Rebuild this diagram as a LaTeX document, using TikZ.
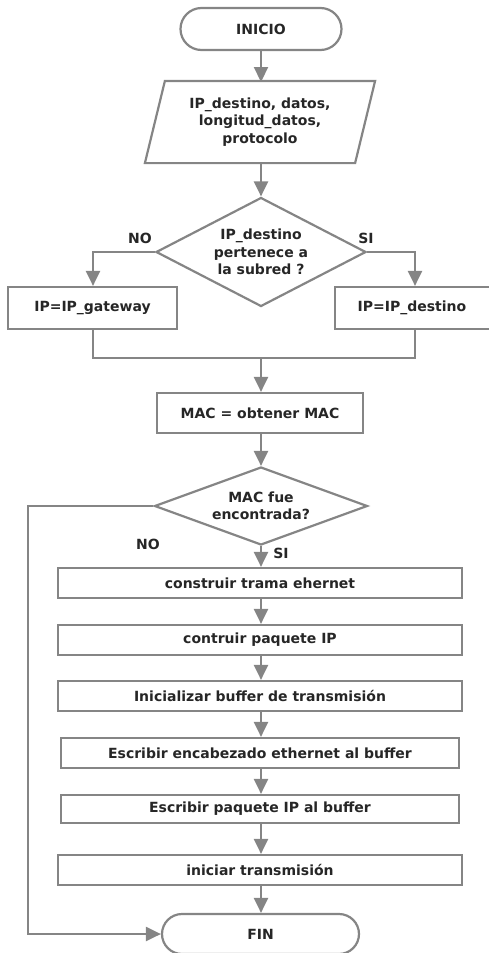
\documentclass[tikz,border=0pt]{standalone}
\usepackage{fontspec}
\setmainfont{DejaVu Sans}
\usetikzlibrary{shapes.geometric,shapes.misc,arrows.meta}
\definecolor{linegray}{HTML}{858585}
\definecolor{txt}{HTML}{262626}
\begin{document}
\begin{tikzpicture}[x=1pt,y=-1pt,
  base/.style={draw=linegray,line width=2.2pt,fill=white,text=txt,inner sep=0pt,align=center,
    font=\fontsize{14}{17.5}\selectfont\bfseries},
  term/.style={base,rounded rectangle,minimum height=42pt},
  proc/.style={base,rectangle,minimum height=30pt},
  dec/.style={base,diamond},
  lbl/.style={text=txt,font=\fontsize{14}{17}\selectfont\bfseries,inner sep=0pt},
  flow/.style={draw=linegray,line width=2.2pt,-{Triangle[width=14pt,length=15pt]}},
  wire/.style={draw=linegray,line width=2.2pt}]
\useasboundingbox (0,0) rectangle (489,953);

% terminals, input, decisions and processes
\node[term,minimum width=161pt] (start) at (261,29) {INICIO};
\node[base,draw=none,fill=none,minimum width=208pt,minimum height=80pt] (in) at (260,122)
  {IP\_destino, datos,\\longitud\_datos,\\protocolo};
\node[dec,minimum width=210pt,minimum height=109pt,aspect=1.93] (d1) at (261,252)
  {IP\_destino\\pertenece a\\la subred ?};
\node[proc,minimum width=169pt,minimum height=42pt] (gw) at (92.5,308) {IP=IP\_gateway};
\node[proc,minimum width=160pt,minimum height=42pt] (dst) at (415,308) {\hspace*{-6pt}IP=IP\_destino};
\node[proc,minimum width=206pt,minimum height=40pt] (mac) at (260,413) {MAC = obtener MAC};
\node[dec,minimum width=213pt,minimum height=78pt,aspect=2.7] (d2) at (261,506)
  {MAC fue\\encontrada?};
\node[proc,minimum width=404pt] (b1) at (260,583) {construir trama ehernet};
\node[proc,minimum width=404pt] (b2) at (260,640) {contruir paquete IP};
\node[proc,minimum width=404pt] (b3) at (260,696) {Inicializar buffer de transmisión};
\node[proc,minimum width=398pt] (b4) at (260,753) {Escribir encabezado ethernet al buffer};
\node[proc,minimum width=398pt,minimum height=28pt] (b5) at (260,809) {Escribir paquete IP al buffer};
\node[proc,minimum width=404pt] (b6) at (260,870) {iniciar transmisión};
\node[term,minimum width=197pt,minimum height=40pt] (fin) at (260.5,934) {FIN};

% slanted outline of the input block
\draw[wire,fill=none] ([xshift=-10pt]in.south west) -- ([xshift=-10pt]in.south east)
  -- ([xshift=10pt]in.north east) -- ([xshift=10pt]in.north west) -- cycle;

% branch labels
\node[lbl] (no1) at (140,238) {NO};
\node[lbl] (si1) at (366,238) {SI};
\node[lbl] (no2) at (148,544) {NO};
\node[lbl] (si2) at (281,553) {SI};

% connectors
\coordinate (merge) at (261,358);
\coordinate (loop) at (28,506);
\draw[flow] (start.south -| 261,0) -- (261,82);
\draw[flow] (261,162) -- (d1.north);
\draw[flow] (d1.west) -| (gw.north -| 93,0);
\draw[flow] (d1.east) -| (dst.north);
\draw[wire] (gw.south -| 93,0) |- (merge) -| (dst.south);
\draw[flow] (merge) -- (mac.north -| merge);
\draw[flow] (mac.south -| 261,0) -- (d2.north);
\draw[flow] (d2.south) -- (b1.north -| d2.south);
\draw[flow] (b1.south -| 261,0) -- (b2.north -| 261,0);
\draw[flow] (b2.south -| 261,0) -- (b3.north -| 261,0);
\draw[flow] (b3.south -| 261,0) -- (b4.north -| 261,0);
\draw[flow] (b4.south -| 261,0) -- (b5.north -| 261,0);
\draw[flow] (b5.south -| 261,0) -- (b6.north -| 261,0);
\draw[flow] (b6.south -| 261,0) -- (fin.north -| 261,0);
\draw[flow] (d2.west) -- (loop) |- (fin.west);
\end{tikzpicture}
\end{document}
